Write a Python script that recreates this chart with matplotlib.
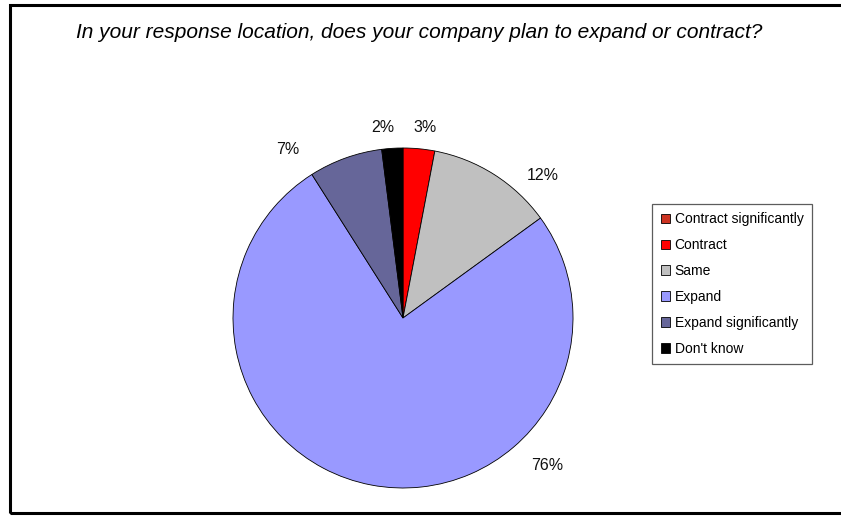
import matplotlib
matplotlib.use("Agg")
import matplotlib.pyplot as plt
from matplotlib.patches import Rectangle
import numpy as np

plt.rcParams['font.family'] = ['Liberation Sans', 'DejaVu Sans']

categories = ["Contract significantly", "Contract", "Same", "Expand",
              "Expand significantly", "Don't know"]
shares = [0, 3, 12, 76, 7, 2]
colors = ["#CC3322", "#FF0000", "#C0C0C0", "#9999FF", "#666699", "#000000"]
# label anchor offsets (in pie-radius units) for each slice with a value label
label_offsets = {1: (0.13, 1.12), 2: (0.82, 0.84), 3: (0.85, -0.87),
                 4: (-0.68, 0.99), 5: (-0.12, 1.12)}

W, H = 841, 516
fig = plt.figure(figsize=(W / 100, H / 100), dpi=100)
fig.patch.set_facecolor("white")

# outer chart frame
fig.patches.append(Rectangle((10 / W, 3 / H), 1.0, (H - 8) / H,
                             transform=fig.transFigure, fill=False,
                             edgecolor="black", linewidth=2.2))

cx, cy, r = 403, 318, 170
ax = fig.add_axes([(cx - r) / W, (H - cy - r) / H, 2 * r / W, 2 * r / H])
wedges, _ = ax.pie(shares, colors=colors, startangle=90, counterclock=False,
                   radius=1.0,
                   wedgeprops=dict(edgecolor="black", linewidth=0.6))
ax.set_xlim(-1, 1)
ax.set_ylim(-1, 1)
ax.set_aspect("equal")
ax.axis("off")

for i, v in enumerate(shares):
    if i in label_offsets:
        x, y = label_offsets[i]
        ax.text(x, y, f"{v}%", ha="center", va="center", fontsize=11.5,
                color="#111111", clip_on=False)

fig.text(419 / W, 1 - 33 / H,
         "In your response location, does your company plan to expand or contract?",
         ha="center", va="center", fontsize=15, style="italic", color="black")

leg = fig.legend(wedges, categories, loc="center",
                 bbox_to_anchor=(732 / W, 1 - 284 / H),
                 fontsize=10, frameon=True, fancybox=False,
                 handlelength=0.7, handleheight=0.7, handletextpad=0.3,
                 labelspacing=0.85, borderpad=0.6, borderaxespad=0)
leg.get_frame().set_edgecolor("#333333")
leg.get_frame().set_linewidth(0.9)

fig.savefig("out.png", dpi=100, facecolor="white")
